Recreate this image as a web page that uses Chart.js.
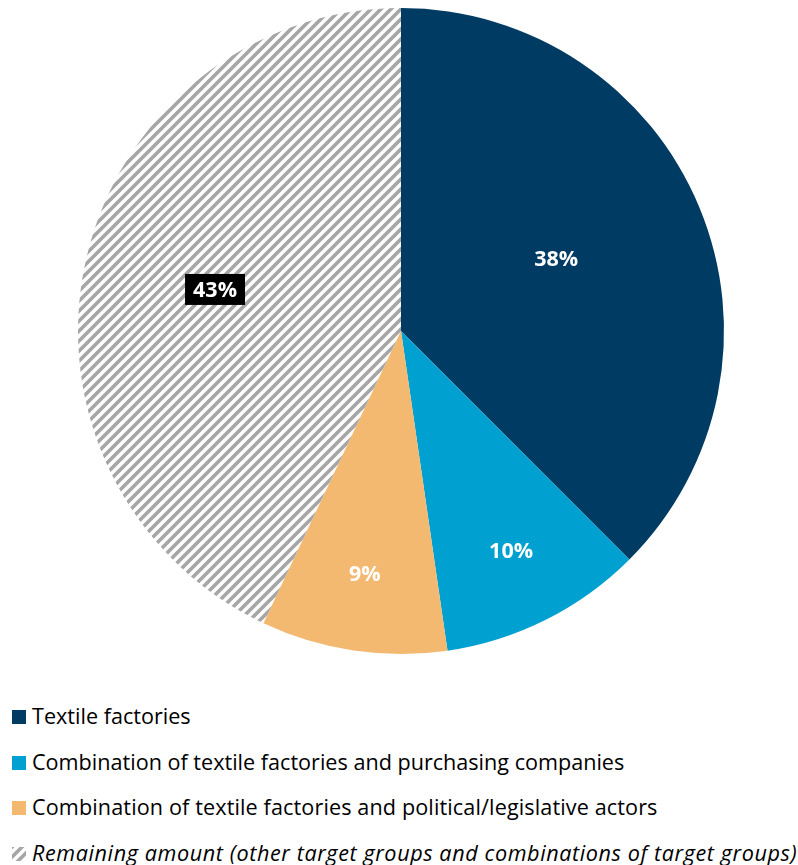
<!DOCTYPE html>
<html>
<head>
<meta charset="utf-8">
<script src="https://cdn.jsdelivr.net/npm/chart.js@4"></script>
<style>
  body { margin: 0; background: #fff; width: 798px; height: 865px; overflow: hidden; font-family: "Open Sans", sans-serif; }
  #wrap { position: absolute; left: 0; top: 0; width: 798px; height: 662px; }
  #legend { position: absolute; left: 12px; top: 699px; }
  .item { height: 45.5px; display: flex; align-items: flex-start; font-size: 21.6px; color: #000; line-height: 34px; white-space: nowrap; }
  .box { width: 14px; height: 14px; margin-right: 6px; margin-top: 11px; flex: none; }
  .item canvas { margin-right: 6px; margin-top: 11px; flex: none; }
</style>
</head>
<body>
<div id="wrap"><canvas id="pie"></canvas></div>
<div id="legend"></div>
<script>
var labels = [
  'Textile factories',
  'Combination of textile factories and purchasing companies',
  'Combination of textile factories and political/legislative actors',
  'Remaining amount (other target groups and combinations of target groups)'
];
var values = [37.5, 10.2, 9.3, 43.0];
var valueLabels = ['38%', '10%', '9%', '43%'];
var colors = ['#003b64', '#00a0d0', '#f4b970', 'hatch'];
// label placement, Excel "best fit" style: share of radius and small angle nudge (deg)
var labelRadius = [0.53, 0.76, 0.76, 0.59];
var labelNudge = [-2.5, 0, 0, 0];

function makeHatch() {
  var s = 10;
  var c = document.createElement('canvas');
  c.width = s; c.height = s;
  var g = c.getContext('2d');
  g.strokeStyle = '#a6a6a6';
  g.lineWidth = 3.6;
  g.beginPath();
  g.moveTo(-2, s + 2); g.lineTo(s + 2, -2);
  g.moveTo(-2, 2); g.lineTo(2, -2);
  g.moveTo(s - 2, s + 2); g.lineTo(s + 2, s - 2);
  g.stroke();
  return c;
}

var hatchTile = makeHatch();
var ctx = document.getElementById('pie').getContext('2d');
var hatch = ctx.createPattern(hatchTile, 'repeat');
var fills = colors.map(function (c) { return c === 'hatch' ? hatch : c; });

var sliceLabels = {
  id: 'sliceLabels',
  afterDatasetsDraw: function (chart) {
    var c = chart.ctx;
    var meta = chart.getDatasetMeta(0);
    c.save();
    c.font = 'bold 21.5px "Open Sans", sans-serif';
    c.textAlign = 'center';
    c.textBaseline = 'middle';
    meta.data.forEach(function (arc, i) {
      var p = arc.getProps(['x', 'y', 'startAngle', 'endAngle', 'outerRadius'], true);
      var mid = (p.startAngle + p.endAngle) / 2 + labelNudge[i] * Math.PI / 180;
      var r = p.outerRadius * labelRadius[i];
      var x = p.x + Math.cos(mid) * r;
      var y = p.y + Math.sin(mid) * r;
      var txt = valueLabels[i];
      if (colors[i] === 'hatch') {
        var w = c.measureText(txt).width + 16;
        c.fillStyle = '#000';
        c.fillRect(x - w / 2, y - 15.5, w, 31);
      }
      c.fillStyle = '#fff';
      c.fillText(txt, x, y + 1);
    });
    c.restore();
  }
};

new Chart(ctx, {
  type: 'pie',
  data: {
    labels: labels,
    datasets: [{
      data: values,
      backgroundColor: fills,
      borderWidth: 0
    }]
  },
  options: {
    responsive: true,
    maintainAspectRatio: false,
    animation: false,
    layout: { padding: { top: 8, bottom: 8, left: 4, right: 0 } },
    plugins: {
      legend: { display: false },
      tooltip: { enabled: false }
    }
  },
  plugins: [sliceLabels]
});

// legend below the pie
var legend = document.getElementById('legend');
labels.forEach(function (lab, i) {
  var row = document.createElement('div');
  row.className = 'item';
  if (colors[i] === 'hatch') {
    var mc = document.createElement('canvas');
    mc.width = 14; mc.height = 14;
    var g = mc.getContext('2d');
    g.fillStyle = g.createPattern(hatchTile, 'repeat');
    g.fillRect(0, 0, 14, 14);
    row.appendChild(mc);
    row.style.fontStyle = 'italic';
    row.style.letterSpacing = '0.6px';
  } else {
    var b = document.createElement('div');
    b.className = 'box';
    b.style.background = colors[i];
    row.appendChild(b);
  }
  if (i === 2) row.style.letterSpacing = '0.12px';
  var t = document.createElement('span');
  t.textContent = lab;
  row.appendChild(t);
  legend.appendChild(row);
});
</script>
</body>
</html>
